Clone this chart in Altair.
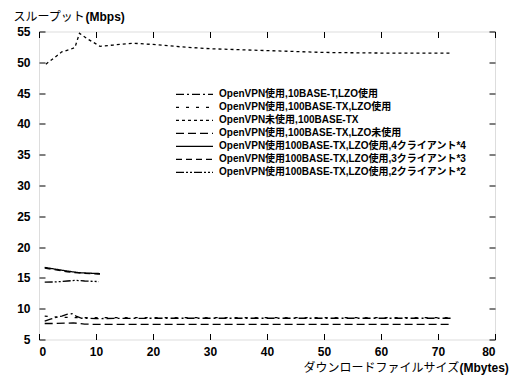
import altair as alt
import pandas as pd

series_names = [
    "OpenVPN使用,10BASE-T,LZO使用",
    "OpenVPN使用,100BASE-TX,LZO使用",
    "OpenVPN未使用,100BASE-TX",
    "OpenVPN使用,100BASE-TX,LZO未使用",
    "OpenVPN使用100BASE-TX,LZO使用,4クライアント*4",
    "OpenVPN使用100BASE-TX,LZO使用,3クライアント*3",
    "OpenVPN使用100BASE-TX,LZO使用,2クライアント*2",
]

s1_x = [1, 2, 3, 4, 5, 5.8, 6.5, 7.5, 10, 20, 30, 40, 50, 60, 72.3]
s1_y = [8.0, 8.3, 8.6, 8.8, 9.1, 9.2, 8.8, 8.45, 8.4, 8.45, 8.45, 8.45, 8.45, 8.45, 8.45]
s2_x = [1, 2, 4, 7, 10, 20, 30, 40, 50, 60, 72.3]
s2_y = [8.8, 8.7, 8.6, 8.55, 8.55, 8.55, 8.55, 8.55, 8.55, 8.55, 8.55]
s3_x = [1.2, 2.5, 4, 5.5, 6.3, 7.1, 8.5, 10.7, 13, 16.5, 20, 25, 30, 40, 50, 60, 72.3]
s3_y = [49.7, 50.6, 51.7, 52.1, 52.4, 54.7, 53.8, 52.6, 52.8, 53.1, 52.9, 52.5, 52.2, 51.9, 51.6, 51.5, 51.5]
s4_x = [1, 3, 6, 8, 10, 20, 30, 40, 50, 60, 72.3]
s4_y = [7.6, 7.6, 7.7, 7.5, 7.45, 7.45, 7.45, 7.45, 7.45, 7.45, 7.45]
s5_x = [1, 3, 5, 7, 8, 10.7]
s5_y = [16.7, 16.4, 16.1, 15.85, 15.8, 15.7]
s6_x = [1, 3, 5, 7, 8, 10.7]
s6_y = [16.6, 16.3, 16.0, 15.8, 15.75, 15.6]
s7_x = [1, 3, 5, 6.5, 8, 10.5]
s7_y = [14.3, 14.35, 14.5, 14.6, 14.5, 14.4]

dashes = [[8, 3, 2, 3], [3, 7], [3, 3], [8, 4], [1, 0], [6, 4], [8, 2, 2, 2, 2, 2]]

x_ticks = [0, 10, 20, 30, 40, 50, 60, 70, 80]
y_ticks = [5, 10, 15, 20, 25, 30, 35, 40, 45, 50, 55]

rows = []
for name, xs, ys in zip(series_names,
                        [s1_x, s2_x, s3_x, s4_x, s5_x, s6_x, s7_x],
                        [s1_y, s2_y, s3_y, s4_y, s5_y, s6_y, s7_y]):
    for i, (a, b) in enumerate(zip(xs, ys)):
        rows.append({"series": name, "x": a, "y": b, "i": i})
df = pd.DataFrame(rows)

LAT = "Liberation Sans"
JP = "Liberation Sans, Noto Sans CJK JP"

xscale = alt.Scale(domain=[0, 80], nice=False, zero=False)
yscale = alt.Scale(domain=[5, 55], nice=False, zero=False)

lines = alt.Chart(df).mark_line(strokeWidth=1.3, color="black").encode(
    x=alt.X("x:Q", scale=xscale, axis=alt.Axis(
        orient="bottom", values=x_ticks, offset=-6, tickSize=6, domain=False,
        grid=False, labelPadding=7, labelFont=LAT, labelFontWeight="bold",
        labelFontSize=12, labelColor="black", tickColor="black",
        title="ダウンロードファイルサイズ", titleFont="Noto Sans CJK JP",
        titleFontWeight="normal", titleFontSize=12, titleColor="black",
        titleAngle=0, titleAlign="left", titleBaseline="middle",
        titleX=264, titleY=33.5)),
    y=alt.Y("y:Q", scale=yscale, axis=alt.Axis(
        orient="left", values=y_ticks, offset=-6, tickSize=6, domain=False,
        grid=False, labelPadding=9, labelFont=LAT, labelFontWeight="bold",
        labelFontSize=12, labelColor="black", tickColor="black",
        title="スループット", titleFont="Noto Sans CJK JP",
        titleFontWeight="normal", titleFontSize=12, titleColor="black",
        titleAngle=0, titleAlign="left", titleBaseline="middle",
        titleX=-32, titleY=-15)),
    strokeDash=alt.StrokeDash("series:N", scale=alt.Scale(domain=series_names, range=dashes),
                              legend=alt.Legend(
                                  title=None, orient="none", legendX=136, legendY=56.5,
                                  symbolType="stroke", symbolSize=1369,
                                  symbolStrokeColor="black", symbolStrokeWidth=1.3,
                                  clipHeight=12.7, rowPadding=0, labelOffset=5,
                                  labelFont=JP, labelFontWeight="bold",
                                  labelFontSize=10, labelColor="black", labelLimit=400)),
    detail="series:N",
    order="i:Q",
)

frame = alt.Chart(df).mark_point(opacity=0).encode(
    x=alt.X("x:Q", scale=xscale, axis=alt.Axis(
        orient="top", values=x_ticks, offset=-6, tickSize=6, domain=False,
        grid=False, labels=False, tickColor="black",
        title="(Mbps)", titleFont=LAT, titleFontWeight="bold", titleFontSize=12,
        titleColor="black", titleAngle=0, titleAlign="left", titleBaseline="middle",
        titleX=46, titleY=-21.5)),
    y=alt.Y("y:Q", scale=yscale, axis=alt.Axis(
        orient="right", values=y_ticks, offset=-6, tickSize=6, domain=False,
        grid=False, labels=False, tickColor="black",
        title="(Mbytes)", titleFont=LAT, titleFontWeight="bold", titleFontSize=12,
        titleColor="black", titleAngle=0, titleAlign="left", titleBaseline="middle",
        titleX=-30, titleY=335.5)),
)

chart = alt.layer(lines, frame).resolve_axis(x="independent", y="independent").properties(
    width=456, height=308,
    autosize=alt.AutoSizeParams(type="none"),
    padding={"left": 31, "top": 23.5, "right": 16, "bottom": 38},
).configure_view(stroke="black", strokeWidth=1.5).configure(background="white")

chart.save("out.html", embed_options={"renderer": "svg", "actions": False})
